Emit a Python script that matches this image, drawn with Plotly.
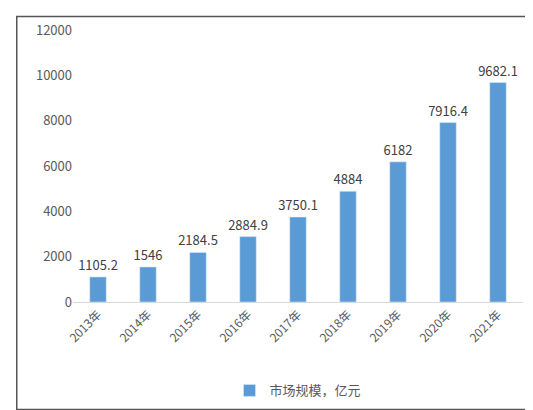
import plotly.graph_objects as go

years = ['2013年', '2014年', '2015年', '2016年', '2017年', '2018年', '2019年', '2020年', '2021年']
market_size = [1105.2, 1546, 2184.5, 2884.9, 3750.1, 4884, 6182, 7916.4, 9682.1]
labels = ['1105.2', '1546', '2184.5', '2884.9', '3750.1', '4884', '6182', '7916.4', '9682.1']

FONT = 'Noto Sans CJK SC, Noto Sans, sans-serif'

fig = go.Figure()
fig.add_trace(go.Bar(
    x=years, y=market_size, name='市场规模，亿元',
    marker_color='#5B9BD5', width=0.33,
    text=labels, textposition='outside', cliponaxis=False,
    textangle=0, constraintext='none',
    textfont=dict(size=13, color='#404040')
))

fig.update_layout(
    width=533, height=410,
    paper_bgcolor='white', plot_bgcolor='white',
    font=dict(family=FONT, color='#595959', size=12),
    margin=dict(l=65, r=18, t=20, b=116),
    showlegend=True,
    legend=dict(orientation='h', x=0.5, xanchor='center', y=-0.27, yanchor='top',
                font=dict(size=13, color='#595959')),
    xaxis=dict(tickangle=-45, showline=True, linecolor='#d9d9d9', ticks='',
               tickfont=dict(size=12)),
    yaxis=dict(range=[0, 12000], dtick=2000, tickformat='d', showgrid=False,
               zeroline=False, tickfont=dict(size=13)),
    bargap=0.5,
)
fig.add_shape(type='rect', xref='paper', yref='paper',
              x0=-0.125, x1=1.02, y0=-0.395, y1=1.05,
              line=dict(color='#555555', width=1.5))

fig.write_html('out.html')
